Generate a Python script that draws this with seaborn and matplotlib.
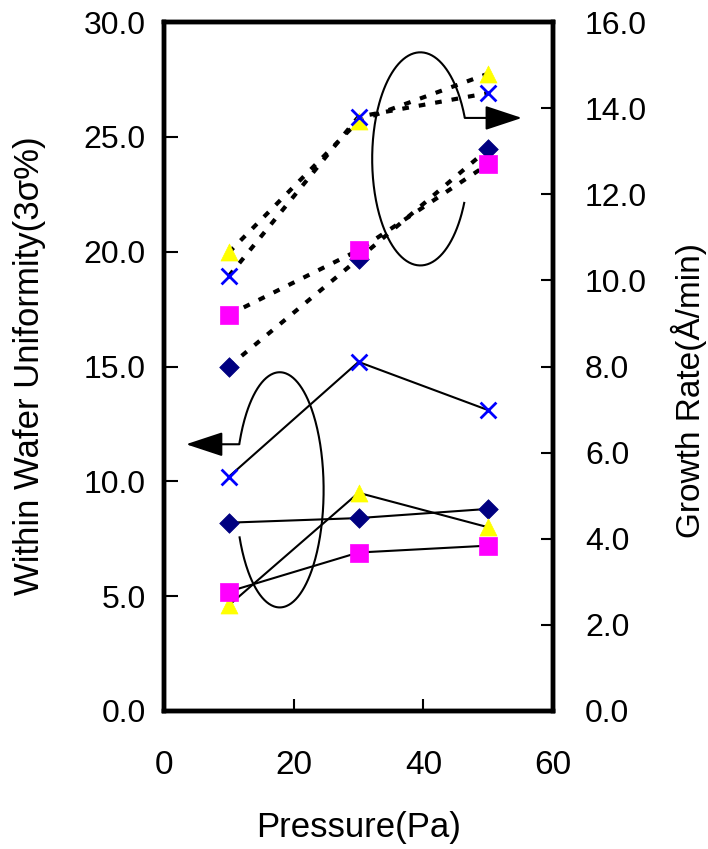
import numpy as np
import matplotlib
matplotlib.use("Agg")
import matplotlib.pyplot as plt
import seaborn as sns

# ---------------- data ----------------
pressure = [10, 30, 50]
# Within wafer uniformity (3σ %) -> left axis (solid lines)
unif_diamond = [8.2, 8.4, 8.8]
unif_triangle = [4.6, 9.5, 8.0]
unif_square = [5.2, 6.9, 7.2]
unif_cross = [10.2, 15.2, 13.1]
# Growth rate (Å/min) -> right axis (dotted lines)
rate_diamond = [8.0, 10.5, 13.05]
rate_triangle = [10.65, 13.7, 14.8]
rate_square = [9.2, 10.7, 12.7]
rate_cross = [10.1, 13.8, 14.35]

x_ticks = [0, 20, 40, 60]
left_ticks = [0, 5, 10, 15, 20, 25, 30]
right_ticks = [0, 2, 4, 6, 8, 10, 12, 14, 16]

x_label = "Pressure(Pa)"
left_label = "Within Wafer Uniformity(3σ%)"
right_label = "Growth Rate(Å/min)"

# ---------------- style ----------------
sns.set_style("ticks")
plt.rcParams['font.family'] = ['Liberation Sans', 'DejaVu Sans']
for key in ['text.color', 'axes.labelcolor', 'xtick.color', 'ytick.color',
            'axes.edgecolor']:
    plt.rcParams[key] = 'black'

styles = {
    'diamond': dict(marker='D', color='#000080', s=100),
    'triangle': dict(marker='^', color='#FFFF00', s=150),
    'square': dict(marker='s', color='#FF00FF', s=150),
    'cross': dict(marker='x', color='#0000FF', s=130),
}
unif = {'diamond': unif_diamond, 'triangle': unif_triangle,
        'square': unif_square, 'cross': unif_cross}
rate = {'diamond': rate_diamond, 'triangle': rate_triangle,
        'square': rate_square, 'cross': rate_cross}

W, H = 708, 849
fig = plt.figure(figsize=(W / 100, H / 100), dpi=100)
ax = fig.add_axes([164 / W, 1 - 711 / H, 389 / W, 689 / H])
ax2 = ax.twinx()


def draw(axis, values, ls, lw):
    for k in ['diamond', 'triangle', 'square', 'cross']:
        sns.lineplot(x=pressure, y=values[k], ax=axis, color='black',
                     linestyle=ls, linewidth=lw, zorder=2, legend=False)
    for k in ['diamond', 'triangle', 'square', 'cross']:
        st = styles[k]
        if st['marker'] == 'x':
            sns.scatterplot(x=pressure, y=values[k], ax=axis, marker='x',
                            s=st['s'], color=st['color'], linewidth=2,
                            zorder=4, legend=False)
        else:
            sns.scatterplot(x=pressure, y=values[k], ax=axis,
                            marker=st['marker'], s=st['s'],
                            color=st['color'], edgecolor=st['color'],
                            linewidth=0.5, zorder=3, legend=False)


draw(ax, unif, '-', 1.5)
draw(ax2, rate, (0, (1.6, 2.4)), 3.0)

# axes limits & ticks
ax.set_xlim(0, 60)
ax.set_ylim(0, 30)
ax2.set_ylim(0, 16)
ax.set_xticks(x_ticks)
ax.set_xticklabels([str(v) for v in x_ticks])
ax.set_yticks(left_ticks)
ax.set_yticklabels([f"{v:.1f}" for v in left_ticks])
ax2.set_yticks(right_ticks)
ax2.set_yticklabels([f"{v:.1f}" for v in right_ticks])

ax.tick_params(axis='x', direction='in', length=9, width=1.5, pad=28,
               labelsize=24, bottom=True, top=False, colors='black')
ax.tick_params(axis='y', direction='in', length=10, width=1.5, pad=13,
               labelsize=23, left=True, right=False, colors='black')
ax2.tick_params(axis='y', direction='in', length=9, width=1.5, pad=23,
                labelsize=23, right=True, left=False, colors='black')

for a in (ax, ax2):
    for sp in a.spines.values():
        sp.set_linewidth(3.2)
        sp.set_color('black')
    a.grid(False)

ax.set_xlabel(x_label, fontsize=25, color='black')
ax.set_ylabel(left_label, fontsize=25, color='black')
ax2.set_ylabel(right_label, fontsize=24, color='black')
ax.xaxis.label.set_va('center')
ax.yaxis.label.set_va('center')
ax2.yaxis.label.set_va('center')
ax.xaxis.set_label_coords(0.5, (711 - 828) / 689)
ax.yaxis.set_label_coords((30 - 164) / 389, (711 - 366) / 689)
ax2.yaxis.set_label_coords((689 - 164) / 389, (711 - 391) / 689)

# ---------------- annotation ellipses with arrows ----------------
def ellipse_arrow(cx, a, cy, b, t0, t1, t_arrow, x_end):
    t = np.radians(np.linspace(t0, t1, 300))
    ax.plot(cx + a * np.cos(t), cy + b * np.sin(t), color='black',
            lw=1.5, zorder=5, solid_capstyle='butt')
    ta = np.radians(t_arrow)
    xs, ys = cx + a * np.cos(ta), cy + b * np.sin(ta)
    ax.annotate('', xy=(x_end, ys), xytext=(xs, ys),
                arrowprops=dict(arrowstyle='-|>,head_length=1.15,head_width=0.38',
                                lw=1.5, color='black', shrinkA=0, shrinkB=0,
                                mutation_scale=20),
                zorder=5)


# growth-rate group (upper) -> arrow to the right axis
ellipse_arrow(39.54, 7.43, 24.04, 4.64, 22.6, 336.2, 22.6, 55.2)
# uniformity group (lower) -> arrow to the left axis
ellipse_arrow(17.85, 6.77, 9.63, 5.12, 203.3, 517.2, 157.2, 3.4)

fig.savefig("out.png", dpi=100)
